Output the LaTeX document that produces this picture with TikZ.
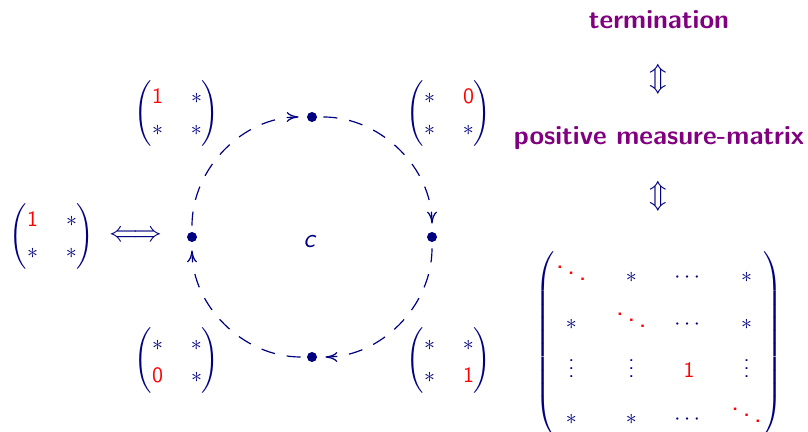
\documentclass[tikz,border=0pt,11pt]{standalone}
\usepackage{amsmath}
\usepackage{xcolor}
\usepackage{tikz}
\usetikzlibrary{positioning,calc,arrows.meta}
\definecolor{mtnavy}{RGB}{0,0,128}
\definecolor{mtpurple}{RGB}{128,0,128}
\definecolor{mtred}{RGB}{255,0,0}
\newcommand{\hit}[1]{\textcolor{mtred}{#1}}
\newcommand{\bigdd}{\hit{\text{\fontsize{15}{18}\selectfont$\ddots$}}}
\newcommand{\twobytwo}[4]{{\arraycolsep=7pt\def\arraystretch{1.2}%
  $\begin{pmatrix}#1 & #2\\ #3 & #4\end{pmatrix}$}}

\begin{document}
\begin{tikzpicture}[x=0.5pt, y=0.5pt,
  mat/.style={inner sep=0pt, text=mtnavy, font=\sffamily},
  dot/.style={circle, fill=mtnavy, inner sep=0pt, minimum size=5pt},
  cyc/.style={-{Computer Modern Rightarrow[length=6pt,width=5pt]}, draw=mtnavy,
              semithick, dash pattern=on 7pt off 6pt,
              shorten >=4pt, shorten <=3pt},
  claim/.style={text=mtpurple, font=\fontsize{13.3}{16}\selectfont\sffamily\bfseries},
  iff/.style={text=mtnavy, inner sep=0pt, font=\fontsize{13.3}{16}\selectfont},
]
\useasboundingbox (0,0) rectangle (808,432);

% the cycle
\coordinate (ctr) at (312,195);
\node[mat, font=\fontsize{13.3}{16}\selectfont\sffamily] (lbl) at (310,190) {\textit{c}};
\node[dot] (l) at ($(ctr)+(180:120)$) {};
\node[dot] (t) at ($(ctr)+(90:120)$) {};
\node[dot] (r) at ($(ctr)+(0:120)$) {};
\node[dot] (b) at ($(ctr)+(270:120)$) {};
\draw[cyc] (l) to[bend left=45] (t);
\draw[cyc] (t) to[bend left=45] (r);
\draw[cyc] (r) to[bend left=45] (b);
\draw[cyc] (b) to[bend left=45] (l);

% the four corners
\node[mat] (mtl) at (177,319) {\twobytwo{\hit{\mathsf{1}}}{\ast}{\ast}{\ast}};
\node[mat] (mtr) at (449,319) {\twobytwo{\ast}{\hit{\mathsf{0}}}{\ast}{\ast}};
\node[mat] (mbl) at (177,72) {\twobytwo{\ast}{\ast}{\hit{\mathsf{0}}}{\ast}};
\node[mat] (mbr) at (449,72) {\twobytwo{\ast}{\ast}{\ast}{\hit{\mathsf{1}}}};

% left side
\node[mat] (mleft) at (52,196) {\twobytwo{\hit{\mathsf{1}}}{\ast}{\ast}{\ast}};
\node[iff] (eq) at (136,196) {$\Longleftrightarrow$};

% right column
\node[claim] (term) at (659,412) {termination};
\node[iff] (eqa) at (658,353) {$\Updownarrow$};
\node[claim] (pos) at (659,294) {positive measure-matrix};
\node[iff] (eqb) at (658,236) {$\Updownarrow$};
\node[mat] (big) at (659,88) {{\arraycolsep=6.5pt\def\arraystretch{1.75}%
  $\begin{pmatrix}
  \bigdd & \ast & \cdots & \ast\\
  \ast & \bigdd & \cdots & \ast\\
  \vdots & \vdots & \hit{\mathsf{1}} & \vdots\\
  \ast & \ast & \cdots & \bigdd
  \end{pmatrix}$}};
\end{tikzpicture}
\end{document}
